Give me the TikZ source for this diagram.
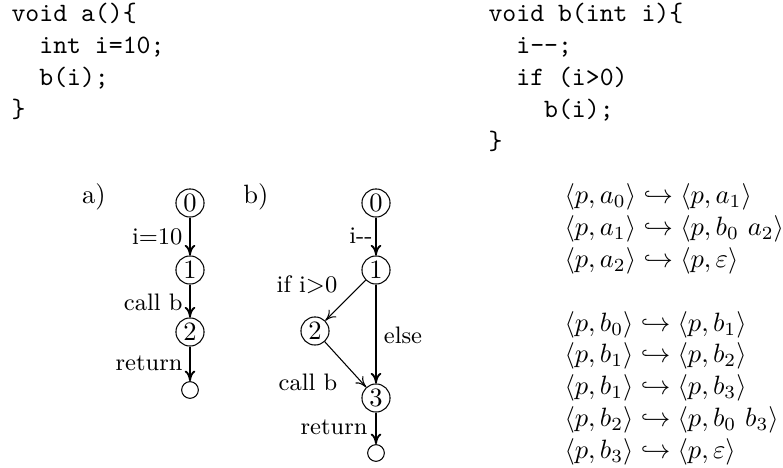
\documentclass[tikz,border=0pt]{standalone}
\usetikzlibrary{arrows.meta}
\begin{document}
\begin{tikzpicture}[x=0.3774pt,y=-0.3774pt,
  st/.style={circle,draw,line width=0.4pt,minimum size=10.6pt,inner sep=0pt},
  fin/.style={circle,draw,line width=0.4pt,minimum size=6.3pt,inner sep=0pt},
  lbl/.style={font=\small,inner sep=0pt},
  vline/.style={line width=0.7pt,-{To[length=4pt,width=4pt]}},
  dline/.style={line width=0.4pt,-{To[length=4pt,width=4pt]}},
  code/.style={font=\ttfamily,inner sep=0pt,anchor=base west}]
\useasboundingbox (0,0) rectangle (783,468);
% code
\node[code] (codea) at (11,22) {\begin{tabular}[t]{@{}l@{}}void a()\{\\\ \ int i=10;\\\ \ b(i);\\\}\end{tabular}};
\node[code] (codeb) at (488,22) {\begin{tabular}[t]{@{}l@{}}void b(int i)\{\\\ \ i-{}-;\\\ \ if (i>0)\\\ \ \ \ b(i);\\\}\end{tabular}};
% graph a
\node[inner sep=0pt] (la) at (94,197) {a)};
\node[st] (a0) at (190,203) {0};
\node[st] (a1) at (190,270) {1};
\node[st] (a2) at (190,332) {2};
\node[fin] (a3) at (190,390) {};
\draw[vline] (a0) -- (a1);
\draw[vline] (a1) -- (a2);
\draw[vline] (a2) -- (a3);
\node[lbl,anchor=east] (ta1) at (183,237) {i=10};
\node[lbl,anchor=east] (ta2) at (183,302) {call b};
\node[lbl,anchor=east] (ta3) at (183,363) {return};
% graph b
\node[inner sep=0pt] (lb) at (256,197) {b)};
\node[st] (b0) at (376,203) {0};
\node[st] (b1) at (376,270) {1};
\node[st] (b2) at (315,331) {2};
\node[st] (b3) at (376,398) {3};
\node[fin] (b4) at (376,453) {};
\draw[vline] (b0) -- (b1);
\draw[dline] (b1) -- (b2);
\draw[dline] (b2) -- (b3);
\draw[vline] (b1) -- (b3);
\draw[vline] (b3) -- (b4);
\node[lbl,anchor=east] (tb1) at (373,236) {i-{}-};
\node[lbl] (tb2) at (307,285) {if i>0};
\node[lbl] (tb3) at (403,335) {else};
\node[lbl] (tb4) at (308,382) {call b};
\node[lbl,anchor=east] (tb5) at (368,427) {return};
% rules
\node[inner sep=0pt,anchor=base west] (rules) at (564,204) {$\begin{array}[t]{@{}l@{}}
\langle p,a_0\rangle \hookrightarrow \langle p,a_1\rangle\\
\langle p,a_1\rangle \hookrightarrow \langle p,b_0\ a_2\rangle\\
\langle p,a_2\rangle \hookrightarrow \langle p,\varepsilon\rangle\\
\\
\langle p,b_0\rangle \hookrightarrow \langle p,b_1\rangle\\
\langle p,b_1\rangle \hookrightarrow \langle p,b_2\rangle\\
\langle p,b_1\rangle \hookrightarrow \langle p,b_3\rangle\\
\langle p,b_2\rangle \hookrightarrow \langle p,b_0\ b_3\rangle\\
\langle p,b_3\rangle \hookrightarrow \langle p,\varepsilon\rangle
\end{array}$};
\end{tikzpicture}
\end{document}
